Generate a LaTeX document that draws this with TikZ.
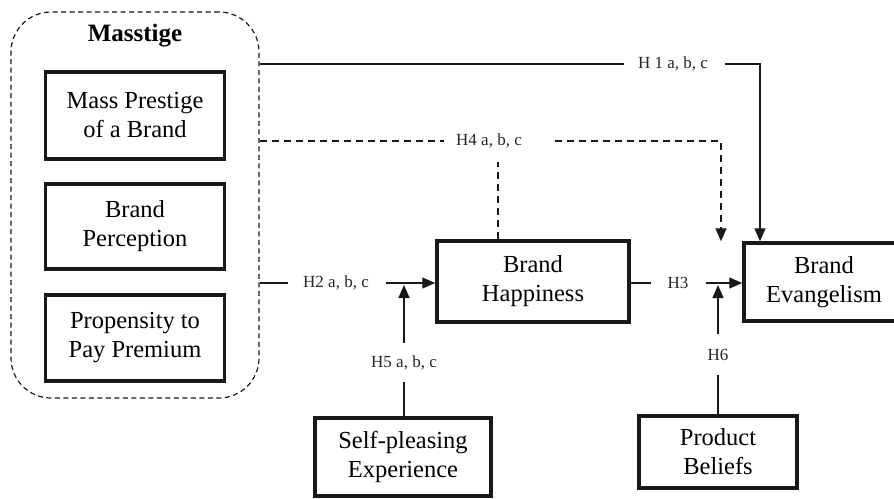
\documentclass[tikz,border=0pt]{standalone}
\usepackage{fontspec}
\setmainfont{Liberation Serif}
\usetikzlibrary{arrows.meta}
\begin{document}
\begin{tikzpicture}[x=1pt,y=-1pt,
 box/.style={draw=black!90, line width=3.5pt, align=center, font=\fontsize{24.5}{29}\selectfont, inner sep=0pt},
 lab/.style={font=\fontsize{17}{20}\selectfont, inner sep=0pt, text=black!85},
 conn/.style={line width=1.4pt, draw=black!90},
 dashes/.style={dash pattern=on 7pt off 5pt},
 tip/.style={-{Triangle[length=13pt,width=11pt]}},
]
\useasboundingbox (0,0) rectangle (894,498);
\clip (0,0) rectangle (894,498);
% Masstige container
\node[draw=black!90, dash pattern=on 5pt off 3.5pt, line width=1.2pt, rounded corners=40pt,
      minimum width=248pt, minimum height=386pt, inner sep=0pt] (mg) at (135,205) {};
\node[font=\bfseries\fontsize{25}{30}\selectfont, inner sep=0pt] (mt) at (135,36) {Masstige};
\node[box, minimum width=179pt, minimum height=87pt] (mp) at (135,115.5) {Mass Prestige\\of a Brand};
\node[box, minimum width=179pt, minimum height=85pt] (bp) at (135,226.5) {Brand\\Perception};
\node[box, minimum width=179pt, minimum height=86pt] (pp) at (135,338) {Propensity to\\Pay Premium};
% other constructs
\node[box, minimum width=192pt, minimum height=81pt] (bh) at (533,281.5) {Brand\\Happiness};
\node[box, minimum width=160pt, minimum height=78pt] (be) at (824,282) {Brand\\Evangelism};
\node[box, minimum width=176pt, minimum height=78pt] (sp) at (403,457) {Self-pleasing\\Experience};
\node[box, minimum width=158pt, minimum height=72pt] (pb) at (718,452) {Product\\Beliefs};
% helper coordinates
\coordinate (c1) at (760,0);
\coordinate (c2) at (721,0);
\coordinate (c3) at (498,0);
\coordinate (j1) at (404,285);
\coordinate (j2) at (718,285);
% labels
\node[lab] (h1) at (673,64) {H 1 a, b, c};
\node[lab] (h4) at (489,141) {H4 a, b, c};
\node[lab] (h2) at (336,283) {H2 a, b, c};
\node[lab] (h5) at (404,363) {H5 a, b, c};
\node[lab] (h3) at (678,283) {H3};
\node[lab] (h6) at (718,355) {H6};
% H1
\draw[conn] (mg.east |- h1) -- ([xshift=-14pt]h1.west);
\draw[conn,tip] ([xshift=17pt]h1.east) -| (c1 |- be.north);
% H4
\draw[conn,dashes] (mg.east |- h4) -- ([xshift=-12pt]h4.west);
\draw[conn,dashes,tip] ([xshift=33pt]h4.east) -| (c2 |- be.north);
\draw[conn,dashes] (c3 |- bh.north) -- ([yshift=-14pt]c3 |- h4.south);
% H2
\draw[conn] (mg.east |- h2) -- ([xshift=-15pt]h2.west);
\draw[conn,tip] ([xshift=17pt]h2.east) -- (bh.west |- h2);
% H5
\draw[conn] (j1 |- sp.north) -- ([yshift=-12pt]h5.south);
\draw[conn,tip] ([yshift=13pt]h5.north) -- (j1);
% H3
\draw[conn] (bh.east |- h3) -- ([xshift=-16pt]h3.west);
\draw[conn,tip] ([xshift=17pt]h3.east) -- (be.west |- h3);
% H6
\draw[conn] (pb.north) -- ([yshift=-14pt]h6.south);
\draw[conn,tip] ([yshift=15pt]h6.north) -- (j2);
\end{tikzpicture}
\end{document}
